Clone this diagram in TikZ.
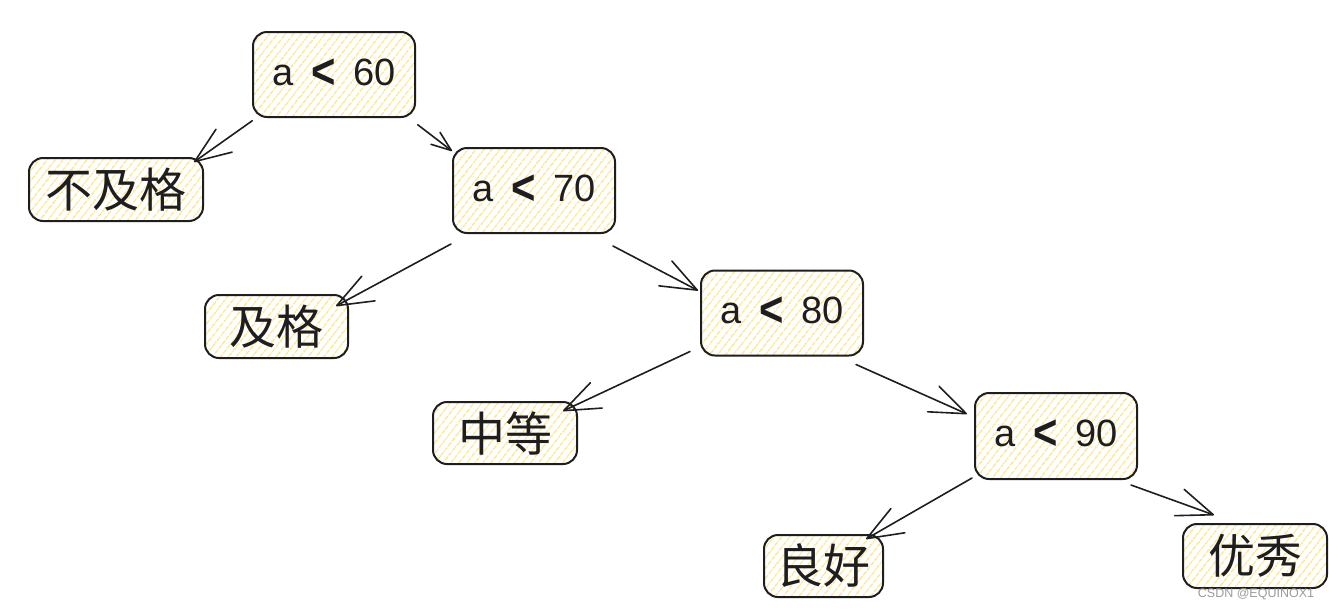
\documentclass[tikz,border=0pt]{standalone}
\usepackage{fontspec}
\setmainfont{Liberation Sans}
\newfontfamily\cjk{Noto Sans CJK SC}
\usetikzlibrary{arrows.meta,patterns.meta,calc}
\definecolor{ink}{HTML}{1E1E1E}
\definecolor{hatch}{HTML}{FBE38C}
\definecolor{wmark}{HTML}{9A9A9A}
\tikzset{
  sbox/.style={rectangle, rounded corners=14pt, draw=ink, line width=2pt,
    pattern={Lines[angle=52,distance=6.5pt,line width=1.5pt]}, pattern color=hatch,
    inner sep=0pt, text=ink},
  abox/.style={sbox, minimum width=162pt, minimum height=85pt, text height=24pt, text depth=3pt,
    font=\fontsize{38}{40}\selectfont},
  cbox/.style={sbox, minimum height=63pt, font=\cjk\fontsize{47}{50}\selectfont},
  arr/.style={draw=ink, line width=1.6pt, line cap=round,
    -{Straight Barb[length=36pt,width=28pt,line width=1.6pt,round]}},
  sarr/.style={draw=ink, line width=1.6pt, line cap=round,
    -{Straight Barb[length=20pt,width=15pt,line width=1.6pt,round]}},
}
\newcommand{\cmp}[1]{a\hspace{18pt}\raisebox{-3pt}{\scalebox{1.1}[1.3]{\bfseries <}}\hspace{18pt}#1}
\begin{document}
\begin{tikzpicture}[x=1pt,y=-1pt]
\useasboundingbox (0,0) rectangle (1329,611);
% nodes
\node[abox] (a60) at (334,74.5) {\cmp{60}};
\node[cbox, minimum width=174pt] (bjg) at (116,189.5) {不及格};
\node[abox] (a70) at (534,190.5) {\cmp{70}};
\node[cbox, minimum width=143pt] (jg) at (276.5,326.5) {及格};
\node[abox] (a80) at (782,313) {\cmp{80}};
\node[cbox, minimum width=144pt, minimum height=62pt] (zd) at (505,433) {中等};
\node[abox, minimum height=86pt] (a90) at (1056,436) {\cmp{90}};
\node[cbox, minimum width=119pt, minimum height=62pt] (lh) at (823.5,566) {良好};
\node[cbox, minimum width=144pt, minimum height=64pt] (yx) at (1255,556) {优秀};
% connectors
\draw[arr] ($(a60.south west)+(0,3)$) -- ($(bjg.north east)+(-10,5)$);
\draw[sarr] ($(a60.south east)+(2,7)$) -- ($(a70.north west)+(0,4)$);
\draw[arr] ($(a70.south west)+(-1,10)$) -- ($(jg.north east)+(-13,12)$);
\draw[arr] ($(a70.south east)+(-3,12)$) -- ($(a80.north west)+(-2,21)$);
\draw[arr] ($(a80.south west)+(-10,-5)$) -- ($(zd.north east)+(-15,10)$);
\draw[arr] ($(a80.south east)+(-8,8)$) -- ($(a90.north west)+(-7,22)$);
\draw[arr] ($(a90.south west)+(-2,-2)$) -- ($(lh.north east)+(-18,5)$);
\draw[arr] ($(a90.south east)+(-7,5)$) -- ($(yx.north west)+(32,-8)$);
% watermark
\node[text=wmark, font=\fontsize{12.5}{14}\selectfont, inner sep=0pt] (wm) at (1256,594) {CSDN @EQUINOX1};
\end{tikzpicture}
\end{document}
